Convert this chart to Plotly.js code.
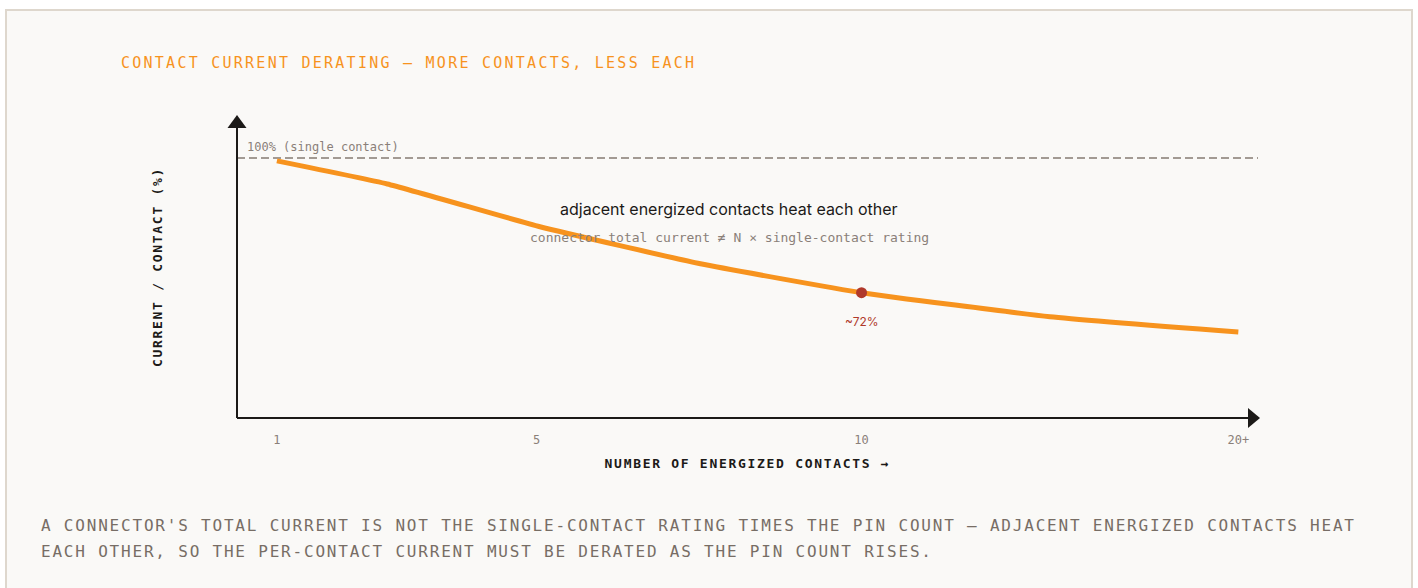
<!DOCTYPE html>
<html>
<head>
<meta charset="utf-8">
<script src="https://cdn.plot.ly/plotly-3.0.1.min.js"></script>
<style>
  html, body { margin:0; padding:0; background:#ffffff; width:1418px; height:588px; overflow:hidden; }
  #card { position:absolute; left:5px; top:9px; width:1404px; height:620px; border:2px solid #DED7CD; background:#FAF9F7; box-sizing:content-box; }
  #chart { position:absolute; left:0; top:0; width:1418px; height:588px; }
  #title { position:absolute; left:121px; top:53px; font-family:"DejaVu Sans Mono", monospace; font-size:15px; line-height:20px; letter-spacing:2.25px; color:#F7931E; white-space:nowrap; }
  #caption { position:absolute; left:41px; top:513px; font-family:"DejaVu Sans Mono", monospace; font-size:16px; line-height:26px; letter-spacing:1.8px; color:#776D65; white-space:nowrap; }
  .xtitle, .ytitle { letter-spacing:1.7px; }
</style>
</head>
<body>
<div id="card"></div>
<div id="chart"></div>
<div id="title">CONTACT CURRENT DERATING — MORE CONTACTS, LESS EACH</div>
<div id="caption">A CONNECTOR'S TOTAL CURRENT IS NOT THE SINGLE-CONTACT RATING TIMES THE PIN COUNT — ADJACENT ENERGIZED CONTACTS HEAT<br>EACH OTHER, SO THE PER-CONTACT CURRENT MUST BE DERATED AS THE PIN COUNT RISES.</div>
<script>
// ---- data ----
const contactPos = [1, 2.7, 5.05, 7.52, 10, 12.9, 15.8];      // position on the contact-count axis
const currentPct = [99.4, 94.6, 85.7, 78.0, 72.0, 67.0, 63.8]; // per-contact current, % of single-contact rating
const tickVals = [1, 5, 10, 15.8];
const tickLabels = ['1', '5', '10', '20+'];
const highlightX = [10];
const highlightY = [72];
const highlightLabel = '~72%';
const referenceLevel = 100;
const referenceLabel = '100% (single contact)';
const mainNote = 'adjacent energized contacts heat each other';
const subNote = 'connector total current ≠ N × single-contact rating';

const mono = '"DejaVu Sans Mono", monospace';
const sans = 'Inter, "Noto Sans", sans-serif';
const ink = '#1C1A18';
const muted = '#8A8079';

const traces = [
  {
    x: contactPos, y: currentPct, type: 'scatter', mode: 'lines',
    line: { color: '#F7931E', width: 5, shape: 'spline', smoothing: 0.4 },
    hoverinfo: 'skip', showlegend: false
  },
  {
    x: highlightX, y: highlightY, type: 'scatter', mode: 'markers',
    marker: { color: '#B0392B', size: 11 },
    hoverinfo: 'skip', showlegend: false
  }
];

const layout = {
  width: 1418, height: 588,
  margin: { l: 237, r: 160, t: 116, b: 170, pad: 0 },
  paper_bgcolor: 'rgba(0,0,0,0)', plot_bgcolor: 'rgba(0,0,0,0)',
  showlegend: false,
  xaxis: {
    range: [0.386, 16.103], showgrid: false, zeroline: false, showline: false,
    tickmode: 'array', tickvals: tickVals, ticktext: tickLabels,
    ticks: '', ticklabelstandoff: 13,
    tickfont: { family: mono, size: 12, color: muted },
    title: { text: 'NUMBER OF ENERGIZED CONTACTS →', standoff: 12,
             font: { family: mono, size: 13, color: ink, weight: 600 } },
    automargin: false, fixedrange: true
  },
  yaxis: {
    range: [45.94, 108.73], showgrid: false, zeroline: false, showline: false,
    showticklabels: false, ticks: '',
    title: { text: 'CURRENT / CONTACT (%)', standoff: 70,
             font: { family: mono, size: 13, color: ink, weight: 600 } },
    automargin: false, fixedrange: true
  },
  shapes: [
    { type: 'line', xref: 'paper', yref: 'y', x0: 0, x1: 1, y0: referenceLevel, y1: referenceLevel,
      line: { color: '#857B73', width: 1.5, dash: '8px,4px' }, layer: 'below' },
    { type: 'line', xref: 'paper', yref: 'paper', x0: 0, x1: 0, y0: 0, y1: 0.9636,
      line: { color: ink, width: 2 } },
    { type: 'line', xref: 'paper', yref: 'paper', x0: 0, x1: 0.991, y0: 0, y1: 0,
      line: { color: ink, width: 2 } },
    { type: 'path', xref: 'paper', yref: 'paper', xsizemode: 'pixel', ysizemode: 'pixel',
      xanchor: 0, yanchor: 1, path: 'M -9.5 -12 L 9.5 -12 L 0 1 Z',
      fillcolor: ink, line: { width: 0 } },
    { type: 'path', xref: 'paper', yref: 'paper', xsizemode: 'pixel', ysizemode: 'pixel',
      xanchor: 1, yanchor: 0, path: 'M -10 -10 L 2 0 L -10 10 Z',
      fillcolor: ink, line: { width: 0 } }
  ],
  annotations: [
    { xref: 'paper', yref: 'y', x: 0, y: referenceLevel, xanchor: 'left', yanchor: 'middle',
      xshift: 8, yshift: 11, showarrow: false, text: referenceLabel,
      font: { family: mono, size: 12, color: muted } },
    { xref: 'paper', yref: 'paper', x: 0.482, y: 0.692, xanchor: 'center', yanchor: 'middle',
      showarrow: false, text: mainNote, font: { family: sans, size: 16, color: ink } },
    { xref: 'paper', yref: 'paper', x: 0.482, y: 0.599, xanchor: 'center', yanchor: 'middle',
      showarrow: false, text: subNote, font: { family: mono, size: 13, color: muted } },
    { xref: 'x', yref: 'y', x: highlightX[0], y: highlightY[0], xanchor: 'center', yanchor: 'middle',
      yshift: -29, showarrow: false, text: highlightLabel,
      font: { family: sans, size: 12, color: '#B0392B' } }
  ]
};

Plotly.newPlot('chart', traces, layout, { staticPlot: true, displayModeBar: false });
</script>
</body>
</html>
